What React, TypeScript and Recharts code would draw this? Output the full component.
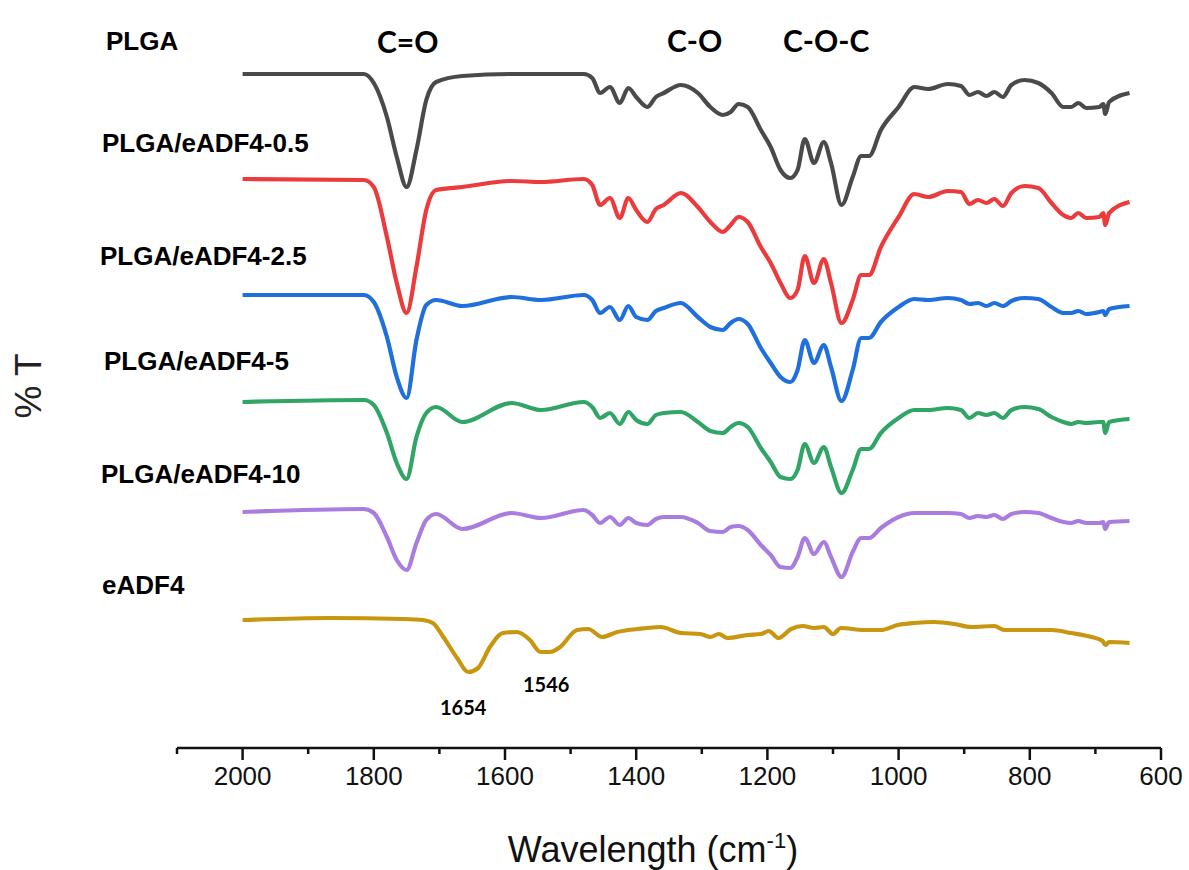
import { LineChart, Line, XAxis, YAxis } from "recharts";

// shared wavenumber grid (cm-1) for the PLGA based films
const wavenumbers = [
  2000, 1815, 1800, 1780, 1765, 1750, 1735, 1720, 1705, 1665, 1590, 1545, 1480, 1467, 1455, 1440, 1425,
  1412, 1400, 1383, 1370, 1358, 1332, 1306, 1287, 1268, 1256, 1244, 1230, 1210, 1195, 1180, 1165, 1154,
  1143, 1129, 1114, 1103, 1087, 1070, 1057, 1045, 1027, 1000, 976, 955, 925, 905, 892, 879, 866, 854,
  841, 828, 808, 787, 767, 749, 737, 726, 714, 694, 688, 685, 679, 648,
];

// stacked %T traces (offset units, top trace first)
const plga = [
  674, 674, 665, 631, 591, 561, 598, 648, 666, 672, 674, 674, 674, 670, 655, 661, 645, 660, 651, 641,
  651, 655, 663, 655, 641, 633, 636, 644, 641, 618, 601, 578, 570, 578, 609, 585, 606, 585, 543, 571,
  592, 592, 618, 641, 661, 659, 664, 662, 653, 656, 652, 656, 651, 663, 668, 665, 655, 641, 641, 645,
  640, 641, 644, 634, 646, 655,
];
const plga05 = [
  569, 568, 561, 511, 465, 435, 481, 538, 558, 561, 567, 566, 569, 563, 543, 550, 530, 550, 538, 526,
  539, 543, 555, 541, 526, 516, 523, 531, 526, 501, 485, 465, 450, 458, 492, 465, 489, 465, 425, 448,
  473, 473, 501, 531, 554, 551, 557, 556, 544, 548, 545, 549, 542, 555, 562, 560, 545, 533, 530, 535,
  530, 531, 535, 523, 535, 546,
];
const plga25 = [
  453, 453, 446, 411, 371, 350, 408, 443, 448, 442, 451, 448, 453, 448, 435, 441, 428, 442, 431, 428,
  437, 440, 445, 431, 421, 418, 425, 429, 424, 400, 385, 371, 366, 378, 408, 385, 403, 381, 347, 378,
  410, 410, 426, 441, 449, 448, 450, 448, 444, 445, 442, 445, 442, 447, 450, 449, 441, 435, 435, 437,
  434, 436, 437, 433, 439, 442,
];
const plga5 = [
  346, 348, 343, 315, 285, 269, 311, 335, 341, 326, 345, 338, 346, 341, 330, 335, 324, 336, 328, 324,
  333, 335, 336, 326, 317, 315, 321, 325, 321, 300, 286, 271, 269, 278, 304, 285, 301, 281, 255, 278,
  299, 299, 315, 330, 338, 338, 340, 338, 330, 335, 333, 335, 330, 338, 341, 339, 331, 326, 324, 326,
  325, 326, 326, 315, 326, 329,
];
const plga10 = [
  236, 239, 235, 211, 188, 178, 205, 228, 234, 219, 235, 230, 238, 233, 225, 231, 223, 230, 225, 223,
  229, 231, 231, 225, 217, 216, 221, 222, 218, 203, 193, 181, 180, 191, 210, 194, 206, 191, 171, 196,
  210, 210, 220, 231, 235, 235, 235, 234, 230, 232, 231, 233, 229, 234, 236, 235, 230, 226, 225, 227,
  225, 225, 226, 219, 226, 227,
];

const eadf4Wavenumbers = [
  2000, 1867, 1755, 1725, 1710, 1694, 1673, 1656, 1641, 1623, 1603, 1582, 1562, 1546, 1531, 1516, 1490,
  1473, 1452, 1429, 1398, 1363, 1332, 1302, 1287, 1274, 1261, 1230, 1210, 1198, 1183, 1164, 1146, 1129,
  1114, 1100, 1088, 1053, 1027, 1001, 976, 946, 915, 889, 854, 839, 798, 767, 737, 706, 689, 685, 679,
  648,
];
const eadf4 = [
  128, 130, 129, 128, 125, 111, 90, 76, 80, 101, 115, 116, 108, 96, 96, 101, 118, 119, 111, 116, 119,
  121, 115, 114, 111, 114, 110, 113, 114, 117, 110, 119, 122, 120, 121, 114, 120, 118, 118, 123, 125,
  126, 124, 121, 122, 118, 118, 118, 115, 111, 107, 103, 106, 105,
];

const xTicks = [2100, 2000, 1900, 1800, 1700, 1600, 1500, 1400, 1300, 1200, 1100, 1000, 900, 800, 700, 600];

const toPoints = (xs: number[], ys: number[]) => xs.map((wn, i) => ({ wn, t: ys[i] }));

const series = [
  { name: "PLGA", color: "#4a4a4a", data: toPoints(wavenumbers, plga) },
  { name: "PLGA/eADF4-0.5", color: "#eb3b3d", data: toPoints(wavenumbers, plga05) },
  { name: "PLGA/eADF4-2.5", color: "#1f6fdc", data: toPoints(wavenumbers, plga25) },
  { name: "PLGA/eADF4-5", color: "#30a565", data: toPoints(wavenumbers, plga5) },
  { name: "PLGA/eADF4-10", color: "#a97ddf", data: toPoints(wavenumbers, plga10) },
  { name: "eADF4", color: "#c8960f", data: toPoints(eadf4Wavenumbers, eadf4) },
];

// sample labels: [text, x, baseline]
const sampleLabels: [string, number, number][] = [
  ["PLGA", 106, 50],
  ["PLGA/eADF4-0.5", 102, 152],
  ["PLGA/eADF4-2.5", 100, 265],
  ["PLGA/eADF4-5", 104, 370],
  ["PLGA/eADF4-10", 101, 483],
  ["eADF4", 102, 594],
];

const bandLabels: [string, number, number][] = [
  ["C=O", 377, 53],
  ["C-O", 667, 52],
  ["C-O-C", 783, 52],
];

const peakLabels: [string, number, number][] = [
  ["1654", 440, 715],
  ["1546", 523, 692],
];

const ARIAL = "'Liberation Sans', Arial, sans-serif";
const CALIBRI = "Lato, 'Open Sans', sans-serif";

function WnTick(props: any) {
  const { x, y, payload } = props;
  const major = payload.value % 200 === 0;
  return (
    <g>
      <line x1={x} x2={x} y1={y} y2={y + (major ? 12 : 6)} stroke="#111" strokeWidth={2.5} />
      {major && (
        <text x={x} y={y + 37} textAnchor="middle" fontSize={26} fill="#111" fontFamily={ARIAL}>
          {payload.value}
        </text>
      )}
    </g>
  );
}

export default function App() {
  return (
    <div style={{ position: "absolute", left: 0, top: 0, width: 1189, height: 870, background: "#fff" }}>
      <LineChart width={1189} height={870} margin={{ top: 48, right: 28, bottom: 0, left: 177 }}>
        <XAxis
          dataKey="wn"
          type="number"
          domain={[600, 2100]}
          reversed
          ticks={xTicks}
          interval={0}
          height={122}
          tickSize={0}
          tickMargin={0}
          tickLine={false}
          axisLine={{ stroke: "#111", strokeWidth: 2.5 }}
          tick={<WnTick />}
        />
        <YAxis type="number" domain={[0, 700]} hide />
        {series.map((s) => (
          <Line
            key={s.name}
            data={s.data}
            dataKey="t"
            name={s.name}
            type="monotone"
            stroke={s.color}
            strokeWidth={4.2}
            strokeLinejoin="round"
            dot={false}
            activeDot={false}
            isAnimationActive={false}
          />
        ))}
      </LineChart>
      <svg
        width={1189}
        height={870}
        style={{ position: "absolute", left: 0, top: 0, pointerEvents: "none" }}
      >
        {sampleLabels.map(([t, x, y]) => (
          <text key={t} x={x} y={y} fontSize={26} fontWeight="bold" fill="#000" fontFamily={ARIAL}>
            {t}
          </text>
        ))}
        {bandLabels.map(([t, x, y]) => (
          <text key={t} x={x} y={y} fontSize={30} fontWeight="bold" fill="#000" fontFamily={CALIBRI}>
            {t}
          </text>
        ))}
        {peakLabels.map(([t, x, y]) => (
          <text key={t} x={x} y={y} fontSize={20} fontWeight="bold" fill="#000" fontFamily={CALIBRI}>
            {t}
          </text>
        ))}
        <text
          x={28}
          y={386}
          transform="rotate(-90 28 386)"
          textAnchor="middle"
          dominantBaseline="central"
          fontSize={37}
          fill="#222"
          fontFamily={ARIAL}
        >
          % T
        </text>
        <text x={653} y={862} textAnchor="middle" fontSize={36} fill="#111" fontFamily={ARIAL}>
          Wavelength (cm
          <tspan fontSize={22} dy={-14}>-1</tspan>
          <tspan dy={14}>)</tspan>
        </text>
      </svg>
    </div>
  );
}
